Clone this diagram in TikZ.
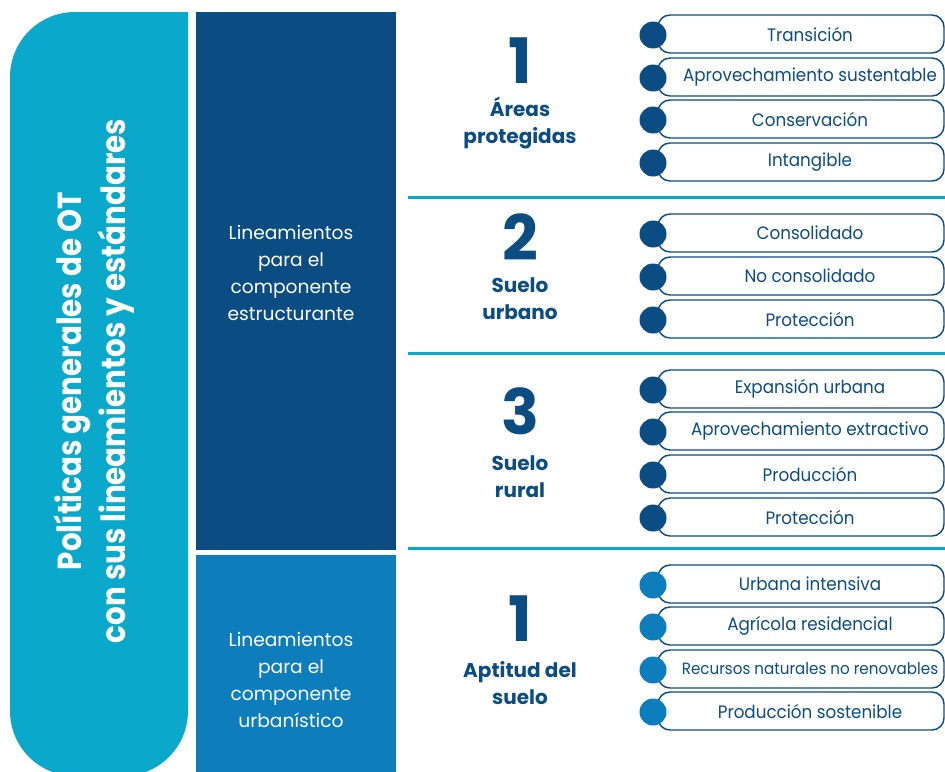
\documentclass[tikz,border=0pt]{standalone}
\usepackage{fontspec}
\setmainfont{Poppins}
\newfontfamily\titlefont{Poppins}[FakeStretch=0.88]
\newfontfamily\itemfont{Poppins}[FakeStretch=0.93]
\usepackage{xcolor}
\usetikzlibrary{positioning}
\definecolor{octeal}{HTML}{0AA8CA}
\definecolor{ocdark}{HTML}{0B4C82}
\definecolor{ocmid}{HTML}{0E7DBB}

\begin{document}
\begin{tikzpicture}[x=0.75pt,y=0.75pt,yscale=-1,xscale=1,
  pill/.style={draw=ocdark, line width=1.1pt, rounded corners=9pt, minimum width=214.5pt, minimum height=28.5pt, inner sep=0pt},
  dot/.style={circle, fill=#1, minimum size=20.25pt, inner sep=0pt},
  itemtxt/.style={text=ocdark, font=\itemfont\fontsize{13.5}{16}\selectfont, inner sep=0.75pt},
  itemsmall/.style={text=ocdark, font=\itemfont\fontsize{12.2}{14}\selectfont, inner sep=0.75pt},
  bignum/.style={text=ocdark, font=\fontsize{47}{47}\selectfont\bfseries, inner sep=0pt},
  grouptxt/.style={text=ocdark, font=\fontsize{15}{20}\selectfont\bfseries, align=center, inner sep=0pt},
  paneltxt/.style={text=white, font=\fontsize{14}{20.25}\selectfont, align=center, inner sep=0pt},
  titletxt/.style={text=white, font=\titlefont\fontsize{25}{33}\selectfont\bfseries, align=center, inner sep=0pt},
  sepline/.style={draw=octeal, line width=2.25pt}]
\useasboundingbox (0,0) rectangle (945,771);

%Left panel, rounded on the left
\fill[octeal] (188,12) [rounded corners=48.75pt] -- (10,12) -- (10,776) -- (188,776) [sharp corners] -- cycle;
% Text Node
\node[titletxt, rotate=90] (title) at (94,381) {Políticas generales de OT\\con sus lineamientos y estándares};

%Middle panels
\fill[ocdark] (196,12) rectangle (396,550);
\fill[ocmid] (196,555) rectangle (396,776);
% Text Node
\node[paneltxt] (lest) at (291,273) {Lineamientos\\para el\\componente\\estructurante};
% Text Node
\node[paneltxt] (lurb) at (291,680) {Lineamientos\\para el\\componente\\urbanístico};

%Separators
\draw[sepline] (408,197) -- (945,197);
\draw[sepline] (408,353) -- (945,353);
\draw[sepline] (408,548) -- (945,548);

%Group headings
\node[bignum] (n1) at (520,61) {1};
\node[grouptxt] (g1) at (520,123) {Áreas\\protegidas};
\node[bignum] (n2) at (520,237) {2};
\node[grouptxt] (g2) at (520,299) {Suelo\\urbano};
\node[bignum] (n3) at (520,411) {3};
\node[grouptxt] (g3) at (520,477) {Suelo\\rural};
\node[bignum] (n4) at (520,619) {1};
\node[grouptxt] (g4) at (520,683) {Aptitud del\\suelo};

%Items: Áreas protegidas
\node[pill] (p11) at (801,34) {};
\node[dot=ocdark] (d11) at (653,35) {};
\node[itemtxt] (t11) at ([shift={(9,0)}]p11) {Transición};
\node[pill] (p12) at (801,77) {};
\node[dot=ocdark] (d12) at (653,78) {};
\node[itemtxt] (t12) at ([shift={(9,0)}]p12) {Aprovechamiento sustentable};
\node[pill] (p13) at (801,119) {};
\node[dot=ocdark] (d13) at (653,120) {};
\node[itemtxt] (t13) at ([shift={(9,0)}]p13) {Conservación};
\node[pill] (p14) at (801,162) {};
\node[dot=ocdark] (d14) at (653,163) {};
\node[itemtxt] (t14) at ([shift={(9,0)}]p14) {Intangible};

%Items: Suelo urbano
\node[pill] (p21) at (801,233) {};
\node[dot=ocdark] (d21) at (653,234) {};
\node[itemtxt] (t21) at ([shift={(9,0)}]p21) {Consolidado};
\node[pill] (p22) at (801,276) {};
\node[dot=ocdark] (d22) at (653,277) {};
\node[itemtxt] (t22) at ([shift={(9,0)}]p22) {No consolidado};
\node[pill] (p23) at (801,319) {};
\node[dot=ocdark] (d23) at (653,320) {};
\node[itemtxt] (t23) at ([shift={(9,0)}]p23) {Protección};

%Items: Suelo rural
\node[pill] (p31) at (801,389) {};
\node[dot=ocdark] (d31) at (653,390) {};
\node[itemtxt] (t31) at ([shift={(9,0)}]p31) {Expansión urbana};
\node[pill] (p32) at (801,431) {};
\node[dot=ocdark] (d32) at (653,432) {};
\node[itemtxt] (t32) at ([shift={(9,0)}]p32) {Aprovechamiento extractivo};
\node[pill] (p33) at (801,474) {};
\node[dot=ocdark] (d33) at (653,475) {};
\node[itemtxt] (t33) at ([shift={(9,0)}]p33) {Producción};
\node[pill] (p34) at (801,517) {};
\node[dot=ocdark] (d34) at (653,518) {};
\node[itemtxt] (t34) at ([shift={(9,0)}]p34) {Protección};

%Items: Aptitud del suelo
\node[pill] (p41) at (801,584) {};
\node[dot=ocmid] (d41) at (653,585) {};
\node[itemtxt] (t41) at ([shift={(9,0)}]p41) {Urbana intensiva};
\node[pill] (p42) at (801,626) {};
\node[dot=ocmid] (d42) at (653,627) {};
\node[itemtxt] (t42) at ([shift={(9,0)}]p42) {Agrícola residencial};
\node[pill] (p43) at (801,669) {};
\node[dot=ocmid] (d43) at (653,670) {};
\node[itemsmall] (t43) at ([shift={(9,0)}]p43) {Recursos naturales no renovables};
\node[pill] (p44) at (801,711) {};
\node[dot=ocmid] (d44) at (653,712) {};
\node[itemtxt] (t44) at ([shift={(9,0)}]p44) {Producción sostenible};

\end{tikzpicture}
\end{document}
